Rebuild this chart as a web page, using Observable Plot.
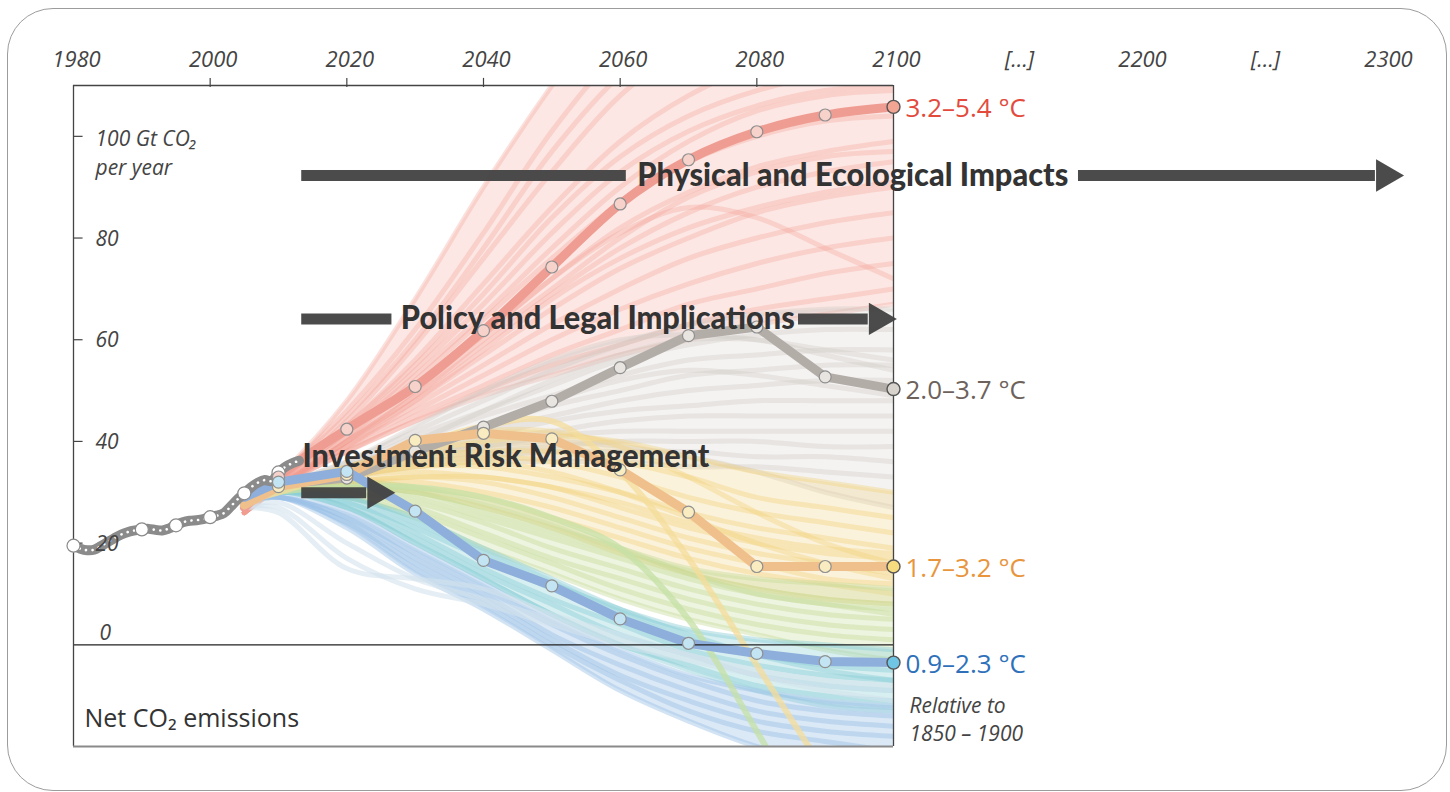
<!DOCTYPE html>
<html><head><meta charset="utf-8">
<script src="https://cdn.jsdelivr.net/npm/d3@7"></script>
<script src="https://cdn.jsdelivr.net/npm/@observablehq/plot@0.6"></script>
<style>
html,body{margin:0;padding:0;background:#fff;overflow:hidden;}
#wrap{position:relative;width:1450px;height:792px;}
#border{position:absolute;left:7px;top:8px;width:1440px;height:783px;border:1.5px solid #9c9c9c;border-radius:46px;box-sizing:border-box;}
#chart{position:absolute;left:0;top:0;}
</style></head><body><div id="wrap"><div id="border"></div><div id="chart"></div></div>
<script>
// ---------- DATA ----------
const years = [2005, 2010, 2020, 2030, 2040, 2050, 2060, 2070, 2080, 2090, 2100];

const histYears = [1980,1981,1982,1983,1984,1985,1986,1987,1988,1989,1990,1991,1992,1993,1994,1995,1996,1997,1998,1999,2000,2001,2002,2003,2004,2005,2006,2007,2008,2009,2010,2011,2012,2013];
const histValues = [19.5,18.9,18.6,18.7,19.4,20.2,21.0,21.7,22.2,22.5,22.7,22.8,22.6,22.5,22.9,23.5,24.1,24.4,24.5,24.7,25.1,25.4,25.9,27.2,28.6,29.8,31.0,31.9,32.4,32.2,33.9,35.0,35.7,36.2];
const histMarkerYears = [1980, 1990, 1995, 2000, 2005, 2010];

const scenarioNames = ["3.2–5.4 °C", "2.0–3.7 °C", "1.7–3.2 °C", "0.9–2.3 °C"];
const highPath   = [27, 33, 42.4, 50.8, 61.8, 74.3, 86.7, 95.4, 100.9, 104.2, 105.8];
const midPath    = [28, 31.5, 32.8, 38, 42.8, 47.9, 54.5, 60.8, 62.5, 52.7, 50.3];
const lowPath    = [27.5, 31.1, 33.5, 40.2, 41.6, 40.5, 34.4, 26.1, 15.4, 15.4, 15.4];
const lowestPath = [29, 32, 34.1, 26.3, 16.6, 11.6, 5.1, 0.3, -1.7, -3.3, -3.5];

const bgHigh = [
  [27,33,48,68,90,110,128,140,146,149,150],
  [27,33,46,62,81,101,117,128,134,137,138],
  [26,32,44,59,76,93,108,118,124,126,127],
  [26,32,43,56,71,86,99,108,114,117,118],
  [26,32,42,54,67,81,93,101,106,109,110],
  [26,31,41,52,64,76,87,95,100,103,104],
  [26,31,41,51,61,72,82,89,94,97,99],
  [26,31,40,49,59,69,78,85,90,93,95],
  [26,31,40,48,57,66,74,80,85,88,90],
  [26,31,39,47,55,63,70,76,80,83,85],
  [26,31,39,46,53,60,66,71,75,78,80],
  [26,31,38,45,51,57,62,67,70,73,75],
  [26,31,38,44,50,55,59,63,66,68,70],
  [26,31,38,44,49,53,57,60,63,65,67],
  [26,31,40,50,61,72,81,86,84,78,72],
  [26,32,42,53,65,78,90,99,105,108,109],
  [26,31,39,48,58,68,76,82,86,89,91],
  [26,32,43,55,69,84,96,104,109,112,113],
  [27,33,45,60,78,97,112,122,127,130,131],
  [26,31,40,49,60,70,80,88,93,96,97]
];
const bgMid = [
  [27,31,36,42,48,54,59,63,65,66,66],
  [27,31,35,41,46,51,56,59,61,62,62],
  [27,31,35,40,45,49,53,56,57,58,58],
  [27,31,35,39,43,47,50,53,54,55,55],
  [27,31,34,38,42,45,48,50,51,52,52],
  [27,31,34,38,41,44,46,47,48,48,48],
  [27,31,34,37,40,42,44,45,45,45,45],
  [27,31,34,37,39,41,42,42,42,42,42],
  [27,31,34,36,38,39,40,40,40,39,39],
  [27,31,34,36,37,38,38,38,37,37,36],
  [27,31,33,35,36,36,36,35,35,34,33],
  [27,31,36,43,50,56,60,61,60,57,54],
  [27,31,35,40,46,52,57,60,60,58,56],
  [27,31,34,38,43,48,52,54,53,51,49],
  [27,31,34,37,39,40,39,37,34,30,27]
];
const bgLow = [
  [28,31,35,38,40,41,40,37,34,32,30],
  [28,31,34,37,38,38,36,33,29,27,25],
  [28,31,34,36,37,36,33,29,26,24,22],
  [28,30,33,35,35,33,30,26,23,21,19],
  [28,30,33,34,33,31,27,23,20,18,17],
  [28,30,32,33,32,29,25,21,18,16,14],
  [28,30,32,32,30,27,23,19,16,13,12],
  [28,30,32,31,29,25,21,17,14,12,10],
  [28,31,35,39,42,42,39,33,26,20,16],
  [28,30,33,35,36,34,30,25,20,16,13],
  [28,30,32,33,33,31,28,24,21,19,18],
  [28,30,31,30,27,23,18,14,11,9,8]
];
const bgGreen = [
  [28,30,31,30,27,23,19,15,13,12,11],
  [28,30,31,29,25,21,17,13,10,8,7],
  [28,30,30,28,24,19,15,11,8,6,5],
  [28,30,30,27,22,17,13,9,6,4,3],
  [28,30,29,26,21,16,11,7,4,2,1],
  [28,30,29,25,19,14,9,5,2,-1,-3],
  [28,30,32,31,28,24,19,14,10,8,6],
  [28,30,31,30,26,22,18,14,11,9,8]
];
const bgTeal = [
  [28,30,29,24,18,12,7,3,1,0,-1],
  [28,30,28,23,17,11,6,1,-2,-4,-5],
  [28,30,28,22,15,9,4,-1,-4,-6,-7],
  [28,30,27,21,14,8,2,-2,-6,-8,-9],
  [28,30,27,20,13,6,0,-4,-8,-10,-11],
  [28,30,29,25,19,13,7,2,-2,-5,-7],
  [28,30,27,20,13,6,0,-5,-9,-12,-13]
];
const bgBlue = [
  [28,29,26,19,12,5,-1,-6,-9,-11,-12],
  [28,29,25,18,11,4,-2,-7,-11,-13,-14],
  [28,29,25,17,10,2,-4,-9,-13,-15,-16],
  [28,29,24,16,9,1,-6,-11,-15,-17,-18],
  [28,29,24,15,8,0,-7,-13,-17,-19,-21],
  [28,29,23,14,7,-1,-9,-15,-20,-23,-24]
];
const bgPale = [
  [27,27,17,11,8,4,0,-3,-6,-8,-9],
  [27,28,20,13,9,5,1,-2,-5,-7,-8],
  [27,26,15,13,11,6,2,-2,-6,-9,-11]
];
const bgSteepGreen  = [28,30,31,31,29,25,19,5,-17,-40,-60];
const bgSteepYellow = [28,30,34,39,43,44,34,17,-4,-25,-45];

const topTickYears  = [1980, 2000, 2020, 2040, 2060, 2080, 2100, 2150, 2200, 2250, 2300];
const topTickLabels = ["1980","2000","2020","2040","2060","2080","2100","[…]","2200","[…]","2300"];
const topTickMarks  = [2000, 2020, 2040, 2060, 2080];
const yTickValues   = [0, 20, 40, 60, 80];
const yTickMarks    = [20, 40, 60, 80, 100];
const yUnitLabel    = "100 Gt CO₂\nper year";
const seriesTitle   = "Net CO₂ emissions";
const baselineNote  = "Relative to\n1850 – 1900";
const arrowLabels   = ["Physical and Ecological Impacts", "Policy and Legal Implications", "Investment Risk Management"];

// ---------- BUILD ----------
const toRows = (series, tag) => series.flatMap((vals, i) => vals.map((v, k) => ({id: tag + i, year: years[k], value: v})));
const envelope = (series) => years.map((yr, k) => ({year: yr, lo: d3.min(series, s => s[k]), hi: d3.max(series, s => s[k])}));

const bgGroups = [
  {data: bgHigh,  color: "#f19a8f", area: 0.24, op: 0.3},
  {data: bgMid,   color: "#cfc8c2", area: 0.22, op: 0.35},
  {data: bgLow,   color: "#f2d27e", area: 0.28, op: 0.4},
  {data: bgGreen, color: "#c3da94", area: 0.30, op: 0.4},
  {data: bgTeal,  color: "#8ccfd6", area: 0.34, op: 0.45},
  {data: bgBlue,  color: "#9cc1e6", area: 0.36, op: 0.45},
  {data: bgPale,  color: "#d3e3ec", area: 0.0, op: 0.6}
];

const mainSeries = [highPath, midPath, lowPath, lowestPath];
const mainStroke = ["#ef9d93", "#b3ada8", "#efc08c", "#8eaedb"];
const dotFill    = ["#f7d2cb", "#e8e4e0", "#f8ecc0", "#c3e5f3"];
const endFill    = ["#f2a593", "#d9d3cd", "#f7dc7f", "#6fc5e3"];
const labelFill  = ["#e34a3c", "#6d625b", "#e8953d", "#2e71ba"];
const drawOrder  = [1, 0, 2, 3];

const hist = histYears.map((y, i) => ({year: y, value: histValues[i]}));
const histDots = hist.filter(d => histMarkerYears.includes(d.year));

const marks = [];
for (const g of bgGroups) {
  if (g.area > 0) marks.push(Plot.areaY(envelope(g.data), {x: "year", y1: "lo", y2: "hi", fill: g.color, fillOpacity: g.area, curve: "catmull-rom", clip: true}));
  marks.push(Plot.line(toRows(g.data, "s"), {x: "year", y: "value", z: "id", stroke: g.color, strokeWidth: 5, strokeOpacity: g.op, curve: "catmull-rom", clip: true}));
}
marks.push(Plot.line(years.map((y, k) => ({year: y, value: bgSteepGreen[k]})), {x: "year", y: "value", stroke: "#c6e0a6", strokeWidth: 6, strokeOpacity: 0.75, curve: "catmull-rom", clip: true}));
marks.push(Plot.line(years.map((y, k) => ({year: y, value: bgSteepYellow[k]})), {x: "year", y: "value", stroke: "#f4dc9a", strokeWidth: 6, strokeOpacity: 0.75, curve: "catmull-rom", clip: true}));

for (const i of drawOrder) {
  const rows = mainSeries[i].map((v, k) => ({year: years[k], value: v}));
  marks.push(Plot.line(rows, {x: "year", y: "value", stroke: mainStroke[i], strokeWidth: 9, curve: i === 0 ? "monotone-x" : "linear", strokeLinejoin: "round", clip: true}));
}
marks.push(Plot.line(hist, {x: "year", y: "value", stroke: "#8b8b8b", strokeWidth: 10, curve: "catmull-rom"}));
marks.push(Plot.line(hist, {x: "year", y: "value", stroke: "#fff", strokeWidth: 2.6, strokeDasharray: "0.1,6.5", strokeLinecap: "round", curve: "catmull-rom"}));

marks.push(Plot.ruleY([0], {x1: 1980, x2: 2100, stroke: "#222", strokeWidth: 1.2}));
marks.push(Plot.ruleX([1980, 2100], {y1: -20, y2: 110, stroke: "#444", strokeWidth: 1.3}));
marks.push(Plot.ruleY([110], {x1: 1980, x2: 2100, stroke: "#444", strokeWidth: 1.3}));
marks.push(Plot.ruleY([-20], {x1: 1980, x2: 2100, stroke: "#8a8a8a", strokeWidth: 2.2}));
marks.push(Plot.ruleX(topTickMarks, {y1: 109.6, y2: 111.4, stroke: "#444", strokeWidth: 1.2}));
marks.push(Plot.ruleY(yTickMarks, {x1: 1980, x2: 1981.4, stroke: "#444", strokeWidth: 1.2}));

marks.push(Plot.dot(histDots, {x: "year", y: "value", r: 6.5, fill: "#fff", stroke: "#8a8a8a", strokeWidth: 1.2}));
for (const i of drawOrder) {
  const rows = mainSeries[i].map((v, k) => ({year: years[k], value: v})).filter(d => d.year >= 2010 && d.year < 2100);
  marks.push(Plot.dot(rows, {x: "year", y: "value", r: 6, fill: dotFill[i], stroke: "#8f8f8f", strokeWidth: 1.2}));
}
for (let i = 0; i < 4; i++) {
  const last = {year: 2100, value: mainSeries[i][10]};
  marks.push(Plot.dot([last], {x: "year", y: "value", r: 6.5, fill: endFill[i], stroke: "#555", strokeWidth: 1.4}));
  marks.push(Plot.text([last], {x: "year", y: "value", text: () => scenarioNames[i], dx: 12, dy: 2, textAnchor: "start", fontSize: 26, fill: labelFill[i]}));
}

marks.push(Plot.text(topTickYears, {x: d => d, text: (d, i) => topTickLabels[i], frameAnchor: "top", lineAnchor: "middle", dy: -26, dx: 3, fontSize: 22, fontStyle: "italic", fill: "#444"}));
marks.push(Plot.text(yTickValues.filter(v => v !== 0), {y: d => d, text: d => String(d), frameAnchor: "left", dx: 22, dy: 1, textAnchor: "start", fontSize: 21, fontStyle: "italic", fill: "#444"}));
marks.push(Plot.text([0], {y: d => d, text: d => String(d), frameAnchor: "left", dx: 26, dy: -12, textAnchor: "start", fontSize: 21, fontStyle: "italic", fill: "#444"}));
marks.push(Plot.text([100], {y: d => d, text: () => yUnitLabel, frameAnchor: "left", dx: 22, dy: -11, lineAnchor: "top", lineHeight: 1.38, textAnchor: "start", fontSize: 21, fontStyle: "italic", fill: "#444"}));
marks.push(Plot.text([seriesTitle], {frameAnchor: "bottom-left", dx: 11, dy: -20, textAnchor: "start", fontSize: 25, fill: "#333"}));
marks.push(Plot.text([baselineNote], {x: () => 2100, frameAnchor: "bottom", dx: 16, dy: -6, textAnchor: "start", lineAnchor: "bottom", lineHeight: 1.33, fontSize: 21, fontStyle: "italic", fill: "#444"}));

const arrowColor = "#414141";
const bars = [
  {x1: 2013.4, x2: 2060.9, y: 92.3}, {x1: 2175.2, x2: 2295.9, y: 92.3},
  {x1: 2013.4, x2: 2026.6, y: 64.1}, {x1: 2086.1, x2: 2096.3, y: 64.1},
  {x1: 2013.4, x2: 2022.9, y: 29.9}
];
const heads = [{x: 2295.9, y: 92.3}, {x: 2096.3, y: 64.1}, {x: 2022.9, y: 29.9}];
const labelsAt = [{x: 2062.5, y: 92.3}, {x: 2027.9, y: 64.1}, {x: 2013.5, y: 37.0}];
marks.push(Plot.ruleY(bars, {y: "y", x1: "x1", x2: "x2", stroke: arrowColor, strokeWidth: 11, strokeOpacity: 0.95}));
marks.push(Plot.dot(heads, {x: "x", y: "y", symbol: "triangle", rotate: 90, r: 12, dx: 10, fill: arrowColor, fillOpacity: 0.95, stroke: "none"}));
marks.push(Plot.text(labelsAt, {x: "x", y: "y", text: (d, i) => arrowLabels[i], textAnchor: "start", fontSize: 32, fontWeight: 900, fontFamily: "Lato, 'Open Sans', sans-serif", fill: "#333"}));

// beyond 2100 the time axis is compressed: 200 years span 492 px
const compress = t => t <= 2100 ? t : 2100 + (t - 2100) * 0.36;

const chart = Plot.plot({
  width: 1450, height: 792,
  marginLeft: 73, marginRight: 557, marginTop: 85, marginBottom: 46,
  x: {domain: [1980, 2100], range: [73, 893], transform: compress, axis: null},
  y: {domain: [-20, 110], range: [746, 85], axis: null},
  style: {fontFamily: "'Open Sans', sans-serif", background: "transparent", overflow: "visible"},
  marks
});
document.getElementById("chart").appendChild(chart);

const targetWidths = {[arrowLabels[0]]: 431, [arrowLabels[1]]: 394, [arrowLabels[2]]: 407};
chart.querySelectorAll("text").forEach(t => {
  const w = targetWidths[t.textContent];
  if (w) { t.setAttribute("textLength", w); t.setAttribute("lengthAdjust", "spacingAndGlyphs"); }
});
</script></body></html>
